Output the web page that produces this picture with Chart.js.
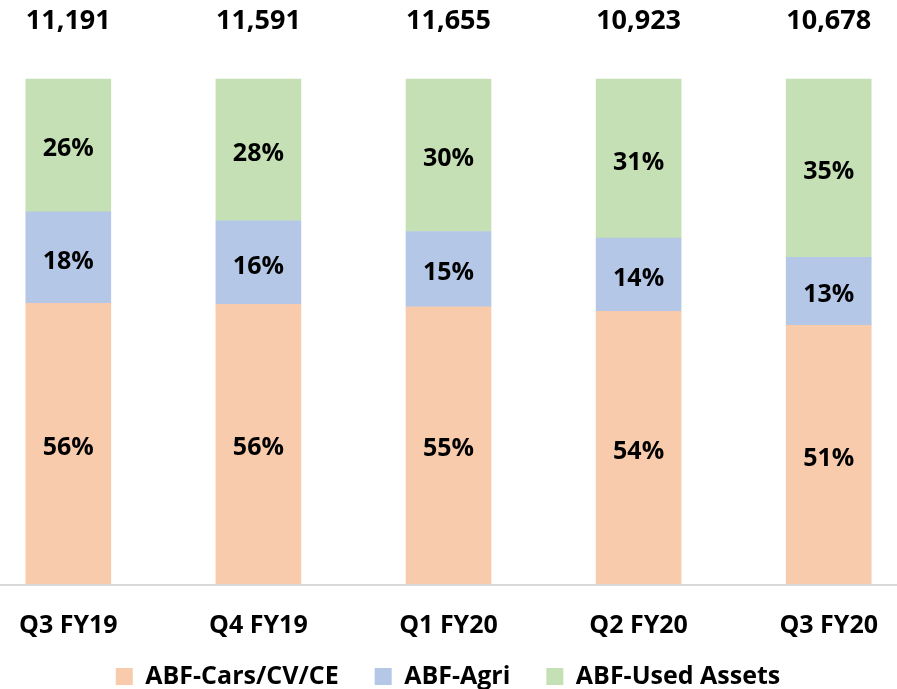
<!DOCTYPE html>
<html>
<head>
<meta charset="utf-8">
<script src="https://cdn.jsdelivr.net/npm/chart.js@4.4.1/dist/chart.umd.min.js"></script>
<style>
  html, body { margin: 0; padding: 0; background: #fff; }
  #wrap { width: 897px; height: 689px; }
</style>
</head>
<body>
<div id="wrap"><canvas id="myChart" width="897" height="689"></canvas></div>
<script>
// quarters and book totals
const quarters = ['Q3 FY19', 'Q4 FY19', 'Q1 FY20', 'Q2 FY20', 'Q3 FY20'];
const totals = [11191, 11591, 11655, 10923, 10678];

// share of each segment (bar heights) and printed labels
const carsShare = [55.6, 55.4, 54.9, 54.0, 51.2];
const agriShare = [18.1, 16.5, 14.9, 14.5, 13.5];
const usedShare = [26.3, 28.1, 30.2, 31.5, 35.3];
const carsLabel = [56, 56, 55, 54, 51];
const agriLabel = [18, 16, 15, 14, 13];
const usedLabel = [26, 28, 30, 31, 35];

const FONT = '"Open Sans"';

const data = {
  labels: quarters,
  datasets: [{
    label: 'ABF-Cars/CV/CE',
    backgroundColor: '#F8CBAD',
    data: carsShare,
    shown: carsLabel
  },
  {
    label: 'ABF-Agri',
    backgroundColor: '#B4C7E7',
    data: agriShare,
    shown: agriLabel
  },
  {
    label: 'ABF-Used Assets',
    backgroundColor: '#C5E0B4',
    data: usedShare,
    shown: usedLabel
  }
  ]
};

// percent labels inside bars, totals on top, full width base line
const barText = {
  id: 'barText',
  afterLayout(chart) {
    // pull legend closer to the tick labels
    chart.legend.top -= 32;
    chart.legend.bottom -= 32;
  },
  afterDatasetsDraw(chart) {
    const c = chart.ctx;
    const y0 = chart.scales.y.getPixelForValue(0);
    c.save();
    c.strokeStyle = '#D9D9D9';
    c.lineWidth = 2;
    c.beginPath();
    c.moveTo(0, y0 + 1);
    c.lineTo(chart.width, y0 + 1);
    c.stroke();

    c.fillStyle = '#000';
    c.textAlign = 'center';
    c.textBaseline = 'alphabetic';
    c.font = 'bold 25px ' + FONT;
    chart.data.datasets.forEach((ds, i) => {
      chart.getDatasetMeta(i).data.forEach((bar, j) => {
        c.fillText(ds.shown[j] + '%', bar.x, (bar.y + bar.base) / 2 + 11);
      });
    });
    c.font = 'bold 27px ' + FONT;
    chart.getDatasetMeta(0).data.forEach((bar, j) => {
      c.fillText(totals[j].toLocaleString('en-US'), bar.x, 29);
    });
    c.restore();
  }
};

const ctx = document.getElementById('myChart').getContext('2d');
const myChart = new Chart(ctx, {
  type: 'bar',
  data: data,
  plugins: [barText],
  options: {
    responsive: false,
    animation: false,
    clip: false,
    barThickness: 85,
    layout: { padding: { top: 79, left: 66, right: 67, bottom: -42 } },
    scales: {
      x: {
        stacked: true,
        offset: false,
        grid: { display: false },
        border: { display: false },
        ticks: {
          color: '#000',
          padding: 19,
          font: { family: FONT, size: 25, weight: 'bold' }
        }
      },
      y: {
        stacked: true,
        display: false,
        min: 0,
        max: 100
      }
    },
    plugins: {
      tooltip: { enabled: false },
      legend: {
        position: 'bottom',
        labels: {
          color: '#000',
          boxWidth: 17,
          boxHeight: 17,
          padding: 36,
          font: { family: FONT, size: 25, weight: 'bold' }
        }
      }
    }
  }
});
</script>
</body>
</html>
